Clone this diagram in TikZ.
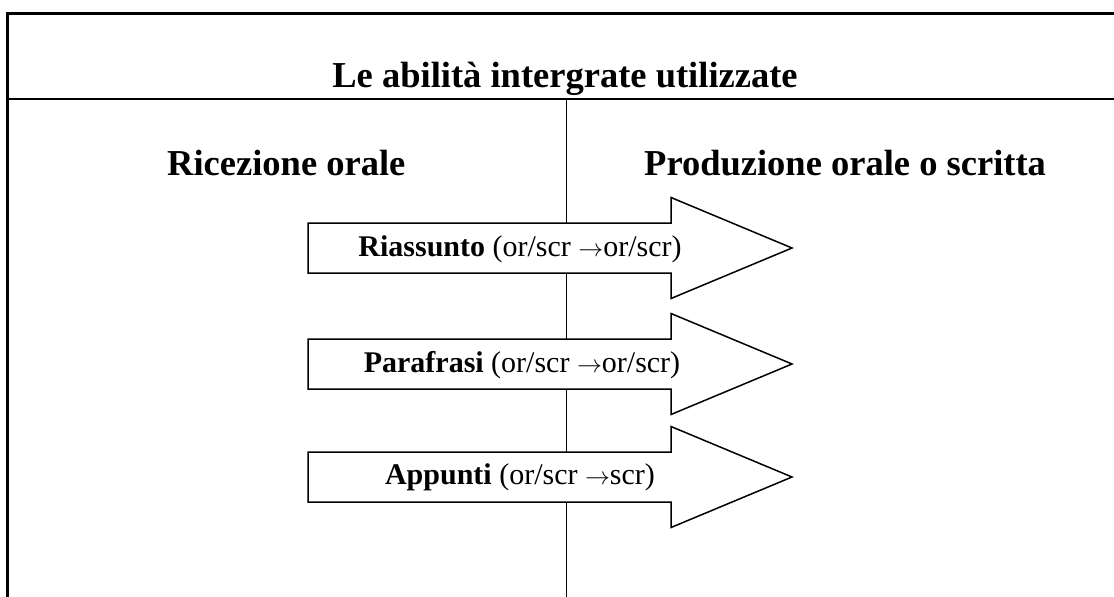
\documentclass[tikz,border=0pt]{standalone}
\usepackage{fontspec}
\setmainfont{Liberation Serif}
\begin{document}
\begin{tikzpicture}[x=1pt,y=-1pt,
  frame/.style={line width=2.5pt},
  divline/.style={line width=1.5pt},
  bigarrow/.style={draw=black,fill=white,line width=1.5pt,line join=miter},
  header/.style={inner sep=0pt,font=\fontsize{36.5}{40}\selectfont\bfseries},
  label/.style={inner sep=0pt,anchor=base,font=\fontsize{30}{33}\selectfont}]
\useasboundingbox (0,0) rectangle (1114,597);
% frame
\coordinate (tl) at (7.5,13.5);
\coordinate (tr) at (1114,13.5);
\coordinate (bl) at (7.5,597);
\coordinate (ml) at (7.5,99);
\coordinate (mr) at (1114,99);
\coordinate (dt) at (566.5,99);
\coordinate (db) at (566.5,597);
\draw[frame] (tr) -- (tl) -- (bl);
\draw[frame] (ml) -- (mr);
\draw[divline] (dt) -- (db);
% headers
\node[header,anchor=base] (title) at (565,87) {Le abilità intergrate utilizzate};
\node[header,anchor=base west] (ric) at (167,175) {Ricezione orale};
\node[header,anchor=base west] (prod) at (644,175) {Produzione orale o scritta};
% arrows
\foreach \c/\n in {248/a1,364/a2,477/a3}{
  \draw[bigarrow] (308,\c-25) -- (671,\c-25) -- (671,\c-50.5) -- (792,\c) -- (671,\c+50.5) -- (671,\c+25) -- (308,\c+25) -- cycle;
}
\node[label] (riass) at (520,256) {\textbf{Riassunto} (or/scr $\rightarrow$or/scr)};
\node[label] (paraf) at (522,372) {\textbf{Parafrasi} (or/scr $\rightarrow$or/scr)};
\node[label] (appun) at (520,484) {\textbf{Appunti} (or/scr $\rightarrow$scr)};
\end{tikzpicture}
\end{document}
